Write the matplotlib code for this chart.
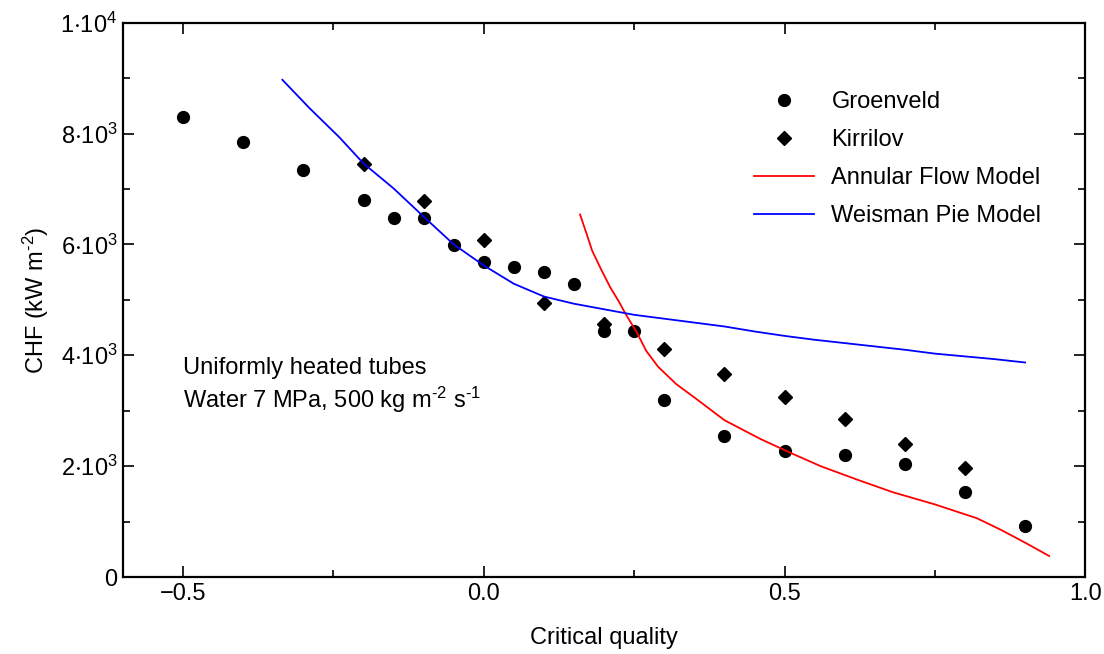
import matplotlib.pyplot as plt
from matplotlib.ticker import MultipleLocator, FuncFormatter

plt.rcParams['font.family'] = ['Liberation Sans', 'DejaVu Sans']
plt.rcParams['mathtext.fontset'] = 'custom'
plt.rcParams['mathtext.rm'] = 'Liberation Sans'
plt.rcParams['mathtext.it'] = 'Liberation Sans:italic'
plt.rcParams['mathtext.default'] = 'regular'

# Groenveld data
groen_x = [-0.5, -0.4, -0.3, -0.2, -0.15, -0.1, -0.05, 0.0, 0.05, 0.1, 0.15,
           0.2, 0.25, 0.3, 0.4, 0.5, 0.6, 0.7, 0.8, 0.9]
groen_y = [8290, 7840, 7350, 6810, 6480, 6480, 5990, 5680, 5590, 5500, 5280,
           4440, 4440, 3190, 2540, 2270, 2200, 2036, 1532, 925]

# Kirrilov data
kir_x = [-0.2, -0.1, 0.0, 0.1, 0.2, 0.3, 0.4, 0.5, 0.6, 0.7, 0.8]
kir_y = [7450, 6775, 6072, 4940, 4570, 4110, 3658, 3243, 2847, 2400, 1970]

# Annular flow model
ann_x = [0.16, 0.17, 0.18, 0.195, 0.21, 0.225, 0.235, 0.255, 0.27, 0.29,
         0.32, 0.35, 0.40, 0.46, 0.51, 0.56, 0.62, 0.68, 0.75, 0.82, 0.86,
         0.9, 0.94]
ann_y = [6540, 6220, 5890, 5550, 5230, 4960, 4760, 4400, 4080, 3790,
         3480, 3240, 2830, 2490, 2240, 2000, 1760, 1530, 1310, 1060, 850,
         620, 380]

# Weisman Pie model
wp_x = [-0.335, -0.29, -0.24, -0.2, -0.15, -0.1, -0.05, 0.0, 0.05, 0.1, 0.15,
        0.2, 0.25, 0.3, 0.35, 0.4, 0.45, 0.5, 0.55, 0.6, 0.65, 0.7, 0.75,
        0.8, 0.85, 0.9]
wp_y = [8970, 8460, 7930, 7460, 7010, 6500, 6000, 5620, 5290, 5060, 4930,
        4830, 4730, 4660, 4590, 4520, 4430, 4350, 4280, 4220, 4160, 4100,
        4030, 3980, 3930, 3870]

fig = plt.figure(figsize=(11.04, 6.54), dpi=100)
ax = fig.add_axes([0.1114, 0.1177, 0.8716, 0.8476])

ax.plot(groen_x, groen_y, 'o', color='black', ms=8.5, label='Groenveld')
ax.plot(kir_x, kir_y, 'D', color='black', ms=7.5, label='Kirrilov')
ax.plot(ann_x, ann_y, '-', color='red', lw=1.3, label='Annular Flow Model')
ax.plot(wp_x, wp_y, '-', color='blue', lw=1.3, label='Weisman Pie Model')

ax.set_xlim(-0.6, 1.0)
ax.set_ylim(0, 10000)

ax.xaxis.set_major_locator(MultipleLocator(0.5))
ax.xaxis.set_minor_locator(MultipleLocator(0.25))
ax.yaxis.set_major_locator(MultipleLocator(2000))
ax.yaxis.set_minor_locator(MultipleLocator(1000))
ax.xaxis.set_major_formatter(FuncFormatter(lambda v, p: f'{v:.1f}'.replace('-', '\u2212')))


def yfmt(v, p):
    if v == 0:
        return '0'
    if v >= 10000:
        return r'1$\cdot$10$^{4}$'
    return r'%d$\cdot$10$^{3}$' % round(v / 1000)


ax.yaxis.set_major_formatter(FuncFormatter(yfmt))

ax.tick_params(which='both', direction='in', top=True, right=True,
               labelsize=17, width=1.2)
ax.tick_params(which='major', length=8, pad=4)
ax.tick_params(which='minor', length=5)
for s in ax.spines.values():
    s.set_linewidth(1.6)

ax.set_xlabel('Critical quality', fontsize=17, labelpad=16)
ax.set_ylabel(r'CHF (kW m$^{\text{-}2}$)', fontsize=17, labelpad=7)

ax.text(-0.5, 3770, 'Uniformly heated tubes', fontsize=17, va='center')
ax.text(-0.5, 3200, r'Water 7 MPa, 500 kg m$^{\text{-}2}$ s$^{\text{-}1}$',
        fontsize=17, va='center')

ax.legend(loc='upper left', bbox_to_anchor=(0.656, 0.876), frameon=False,
          fontsize=17, handlelength=2.55, labelspacing=0.67, handletextpad=0.72,
          borderpad=0, borderaxespad=0)

fig.savefig('out.png', dpi=100)
